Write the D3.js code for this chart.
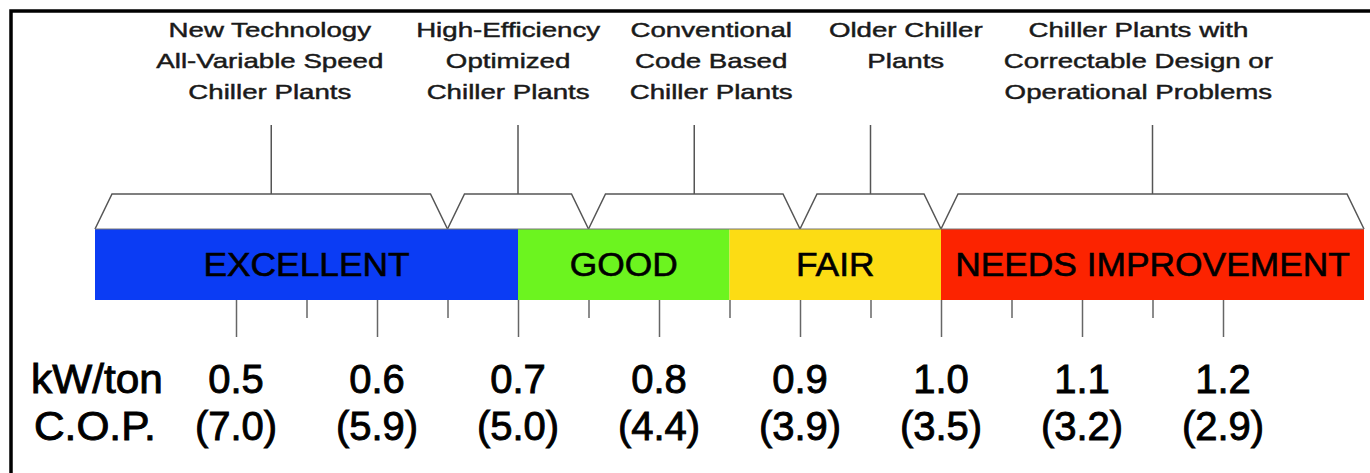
<!DOCTYPE html>
<html>
<head>
<meta charset="utf-8">
<script src="https://cdn.jsdelivr.net/npm/d3@7"></script>
<style>
  html, body { margin: 0; padding: 0; background: #fff; }
  svg { display: block; }
  text { font-family: "Liberation Sans", Arial, Helvetica, sans-serif; }
</style>
</head>
<body>
<script>
// ---- data ----
const bandNames  = ["EXCELLENT", "GOOD", "FAIR", "NEEDS IMPROVEMENT"];
const bandStarts = [0.4, 0.7, 0.85, 1.0];
const bandEnds   = [0.7, 0.85, 1.0, 1.3];
const bandColors = ["#0b3cf4", "#6cf41f", "#fcdc14", "#fc2300"];

const groupStarts = [0.4, 0.65, 0.75, 0.9, 1.0];
const groupEnds   = [0.65, 0.75, 0.9, 1.0, 1.3];
const groupLabelAt = [0.524, 0.693, 0.837, 0.975, 1.14];
const groupLabels = [
  ["New Technology", "All-Variable Speed", "Chiller Plants"],
  ["High-Efficiency", "Optimized", "Chiller Plants"],
  ["Conventional", "Code Based", "Chiller Plants"],
  ["Older Chiller", "Plants"],
  ["Chiller Plants with", "Correctable Design or", "Operational Problems"]
];

const kwTicks   = [0.5, 0.6, 0.7, 0.8, 0.9, 1.0, 1.1, 1.2];
const kwLabels  = ["0.5", "0.6", "0.7", "0.8", "0.9", "1.0", "1.1", "1.2"];
const copLabels = ["(7.0)", "(5.9)", "(5.0)", "(4.4)", "(3.9)", "(3.5)", "(3.2)", "(2.9)"];
const minorTicks = [0.55, 0.65, 0.75, 0.85, 0.95, 1.05, 1.15];

// ---- layout ----
const W = 1370, H = 473;
const svg = d3.select("body").append("svg").attr("width", W).attr("height", H);
svg.append("rect").attr("width", W).attr("height", H).attr("fill", "#fff");

const x = d3.scaleLinear().domain([0.4, 1.3]).range([95, 1364]);
const barTop = 229, barBot = 300;
const trapTop = 194, slant = 17;
const labelStretch = 1.35;

// frame (top + left edges visible)
svg.append("path")
  .attr("d", `M11,${H} V11 H${W}`)
  .attr("fill", "none").attr("stroke", "#000").attr("stroke-width", 3.5);

// group labels
groupLabels.forEach((lines, i) => {
  const cx = x(groupLabelAt[i]);
  const g = svg.append("g").attr("transform", `translate(${cx},0) scale(${labelStretch},1)`);
  lines.forEach((ln, j) => {
    g.append("text")
      .attr("x", 0).attr("y", 37 + j * 31)
      .attr("text-anchor", "middle")
      .attr("font-size", 20.5)
      .attr("fill", "#1a1a1a")
      .attr("stroke", "#1a1a1a").attr("stroke-width", 0.45)
      .text(ln);
  });
});

// pointer lines
svg.selectAll(".ptr").data(groupStarts).enter().append("line")
  .attr("x1", (d, i) => x((d + groupEnds[i]) / 2))
  .attr("x2", (d, i) => x((d + groupEnds[i]) / 2))
  .attr("y1", 125).attr("y2", trapTop)
  .attr("stroke", "#555").attr("stroke-width", 1.5);

// trapezoid brackets
svg.selectAll(".trap").data(groupStarts).enter().append("path")
  .attr("d", (d, i) => {
    const x0 = x(d), x1 = x(groupEnds[i]);
    return `M${x0},${barTop} L${x0 + slant},${trapTop} L${x1 - slant},${trapTop} L${x1},${barTop}`;
  })
  .attr("fill", "none").attr("stroke", "#555").attr("stroke-width", 1.5)
  .attr("stroke-linejoin", "miter");

// bands
svg.selectAll(".band").data(bandStarts).enter().append("rect")
  .attr("x", d => x(d))
  .attr("y", barTop)
  .attr("width", (d, i) => x(bandEnds[i]) - x(d))
  .attr("height", barBot - barTop)
  .attr("fill", (d, i) => bandColors[i]);

svg.append("line").attr("x1", x(0.4)).attr("x2", x(1.3))
  .attr("y1", barTop).attr("y2", barTop)
  .attr("stroke", "#777").attr("stroke-width", 1);

svg.selectAll(".bandtxt").data(bandStarts).enter().append("text")
  .attr("transform", (d, i) => `translate(${x((d + bandEnds[i]) / 2)},276) scale(1.04,1)`)
  .attr("text-anchor", "middle")
  .attr("font-size", 34)
  .attr("fill", "#000")
  .attr("stroke", "#000").attr("stroke-width", 0.6)
  .text((d, i) => bandNames[i]);

// ticks via axes
const majorAxis = d3.axisBottom(x).tickValues(kwTicks).tickSize(37).tickFormat("");
const minorAxis = d3.axisBottom(x).tickValues(minorTicks).tickSize(18).tickFormat("");
const gMaj = svg.append("g").attr("transform", `translate(0,${barBot})`).call(majorAxis);
const gMin = svg.append("g").attr("transform", `translate(0,${barBot})`).call(minorAxis);
[gMaj, gMin].forEach(g => {
  g.select(".domain").remove();
  g.selectAll(".tick line").attr("stroke", "#666").attr("stroke-width", 1.5);
});

// row titles
svg.append("text").attr("font-size", 40).attr("fill", "#000")
  .attr("stroke", "#000").attr("stroke-width", 0.9)
  .attr("transform", "translate(31,393) scale(1.06,1)")
  .text("kW/ton");
svg.append("text").attr("font-size", 40).attr("fill", "#000")
  .attr("stroke", "#000").attr("stroke-width", 0.9)
  .attr("transform", "translate(34,440) scale(1.06,1)")
  .text("C.O.P.");

// tick labels
svg.selectAll(".kw").data(kwTicks).enter().append("text")
  .attr("x", d => x(d)).attr("y", 393)
  .attr("text-anchor", "middle").attr("font-size", 40).attr("fill", "#000")
  .attr("stroke", "#000").attr("stroke-width", 0.9)
  .text((d, i) => kwLabels[i]);
svg.selectAll(".cop").data(kwTicks).enter().append("text")
  .attr("x", d => x(d)).attr("y", 440)
  .attr("text-anchor", "middle").attr("font-size", 40).attr("fill", "#000")
  .attr("stroke", "#000").attr("stroke-width", 0.9)
  .text((d, i) => copLabels[i]);
</script>
</body>
</html>
